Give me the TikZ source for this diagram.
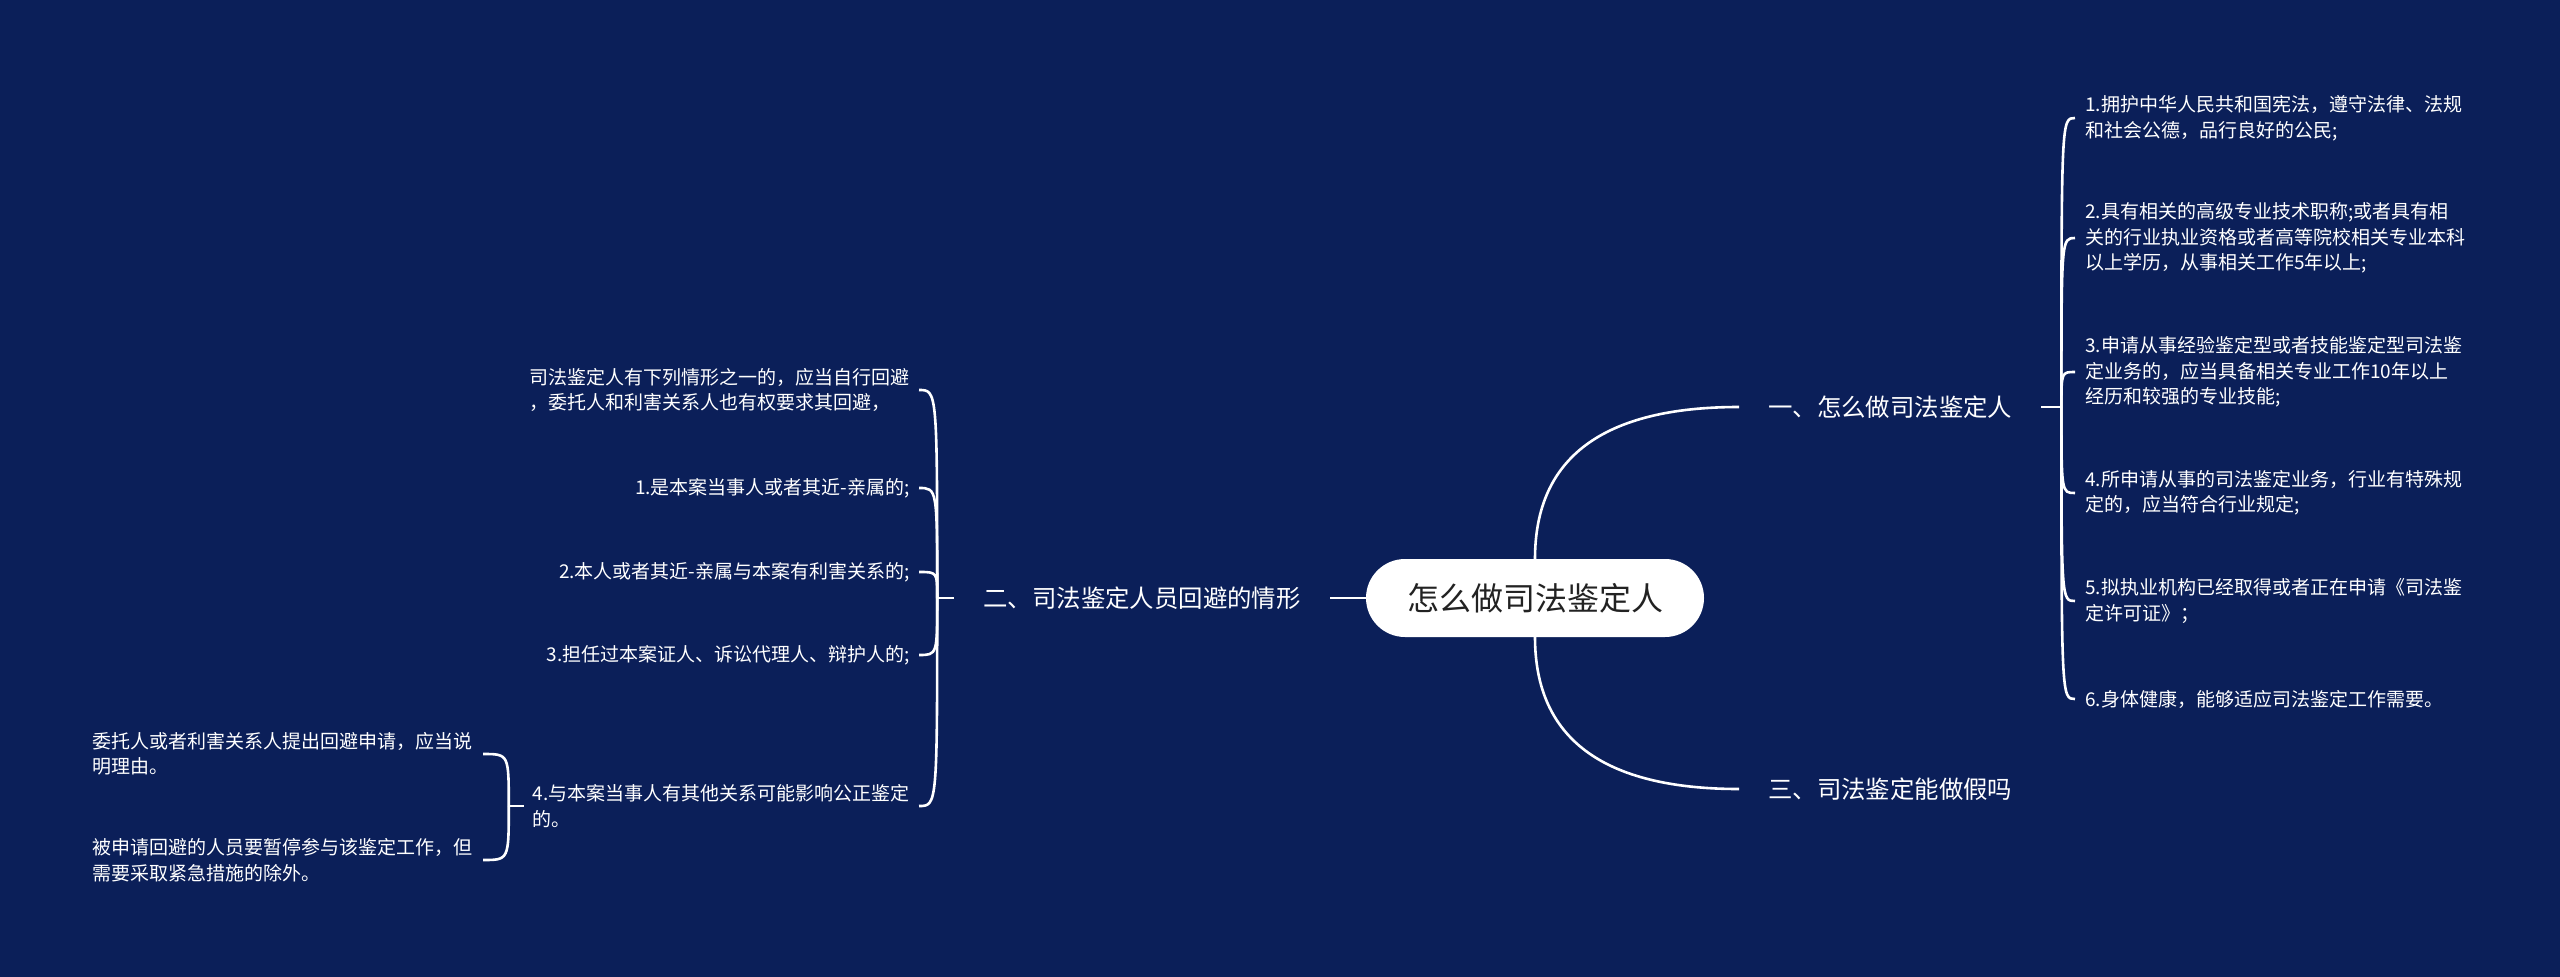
\documentclass[tikz,border=0pt]{standalone}
\usepackage{fontspec}
\setmainfont{Noto Sans CJK SC}
\usepackage{tikz}
\usetikzlibrary{positioning, calc}
\definecolor{mapnavy}{RGB}{11,31,89}
\definecolor{rootink}{RGB}{34,34,34}

\begin{document}
\begin{tikzpicture}[
  x=1pt, y=-1pt,
  rootbox/.style={rectangle, rounded corners=39pt, fill=white, text=rootink,
                  minimum width=338pt, minimum height=78pt, inner sep=0pt,
                  font=\fontsize{32pt}{38pt}\selectfont},
  topic/.style={inner xsep=29pt, inner ysep=6pt, text=white,
                font=\fontsize{24.4pt}{30pt}\selectfont},
  leaf/.style={inner sep=0pt, text=white, align=left,
               font=\fontsize{19pt}{25.5pt}\selectfont},
  link/.style={draw=white, line width=2.6pt},
]
  \fill[mapnavy] (0,0) rectangle (2560,977);
  \useasboundingbox (0,0) rectangle (2560,977);

  \node[rootbox] (root) at (1535,598) {怎么做司法鉴定人};
  \node[topic, anchor=west] (t1) at (1739,407) {一、怎么做司法鉴定人};
  \node[topic, left=36pt of root] (t2) {二、司法鉴定人员回避的情形};
  \node[topic, anchor=west] (t3) at (1739,789) {三、司法鉴定能做假吗};

  % right leaves
  \node[leaf, anchor=west] (r1) at (2085,118) {1.拥护中华人民共和国宪法，遵守法律、法规\\和社会公德，品行良好的公民;};
  \node[leaf, anchor=west] (r2) at (2085,238) {2.具有相关的高级专业技术职称;或者具有相\\关的行业执业资格或者高等院校相关专业本科\\以上学历，从事相关工作5年以上;};
  \node[leaf, anchor=west] (r3) at (2085,372) {3.申请从事经验鉴定型或者技能鉴定型司法鉴\\定业务的，应当具备相关专业工作10年以上\\经历和较强的专业技能;};
  \node[leaf, anchor=west] (r4) at (2085,493) {4.所申请从事的司法鉴定业务，行业有特殊规\\定的，应当符合行业规定;};
  \node[leaf, anchor=west] (r5) at (2085,601) {5.拟执业机构已经取得或者正在申请《司法鉴\\定许可证》；};
  \node[leaf, anchor=west] (r6) at (2085,699) {6.身体健康，能够适应司法鉴定工作需要。};

  % left leaves
  \node[leaf, anchor=east] (l0) at (910,390) {司法鉴定人有下列情形之一的，应当自行回避\\，委托人和利害关系人也有权要求其回避，};
  \node[leaf, anchor=east] (l1) at (910,488) {1.是本案当事人或者其近-亲属的;};
  \node[leaf, anchor=east] (l2) at (910,572) {2.本人或者其近-亲属与本案有利害关系的;};
  \node[leaf, anchor=east] (l3) at (910,655) {3.担任过本案证人、诉讼代理人、辩护人的;};
  \node[leaf, anchor=east] (l4) at (910,806) {4.与本案当事人有其他关系可能影响公正鉴定\\的。};
  \node[leaf, anchor=east] (s1) at (473,754) {委托人或者利害关系人提出回避申请，应当说\\明理由。};
  \node[leaf, anchor=east] (s2) at (473,860) {被申请回避的人员要暂停参与该鉴定工作，但\\需要采取紧急措施的除外。};

  \coordinate (j1) at ([xshift=20pt]t1.east);
  \coordinate (j2) at ([xshift=-17pt]t2.west);
  \coordinate (j4) at ([xshift=-24pt]l4.west);
  \coordinate (c1) at (root.north |- t1.west);
  \coordinate (c3) at (root.south |- t3.west);

  \draw[link] (root) -- (t2);
  \draw[link] (root.north) .. controls ($(root.north)!0.667!(c1)$) and ($(t1.west)!0.667!(c1)$) .. (t1.west);
  \draw[link] (root.south) .. controls ($(root.south)!0.667!(c3)$) and ($(t3.west)!0.667!(c3)$) .. (t3.west);

  \draw[link] (t1.east) -- (j1);
  \draw[link] (j1) .. controls (j1 |- r1.west) .. ([xshift=-10pt]r1.west);
  \draw[link] (j1) .. controls (j1 |- r2.west) .. ([xshift=-10pt]r2.west);
  \draw[link] (j1) .. controls (j1 |- r3.west) .. ([xshift=-10pt]r3.west);
  \draw[link] (j1) .. controls (j1 |- r4.west) .. ([xshift=-10pt]r4.west);
  \draw[link] (j1) .. controls (j1 |- r5.west) .. ([xshift=-10pt]r5.west);
  \draw[link] (j1) .. controls (j1 |- r6.west) .. ([xshift=-10pt]r6.west);

  \draw[link] (t2.west) -- (j2);
  \draw[link] (j2) .. controls (j2 |- l0.east) .. ([xshift=9pt]l0.east);
  \draw[link] (j2) .. controls (j2 |- l1.east) .. ([xshift=9pt]l1.east);
  \draw[link] (j2) .. controls (j2 |- l2.east) .. ([xshift=9pt]l2.east);
  \draw[link] (j2) .. controls (j2 |- l3.east) .. ([xshift=9pt]l3.east);
  \draw[link] (j2) .. controls (j2 |- l4.east) .. ([xshift=9pt]l4.east);

  \draw[link] ([xshift=-9pt]l4.west) -- (j4);
  \draw[link] (j4) .. controls (j4 |- s1.east) .. ([xshift=10pt]s1.east);
  \draw[link] (j4) .. controls (j4 |- s2.east) .. ([xshift=10pt]s2.east);
\end{tikzpicture}
\end{document}
